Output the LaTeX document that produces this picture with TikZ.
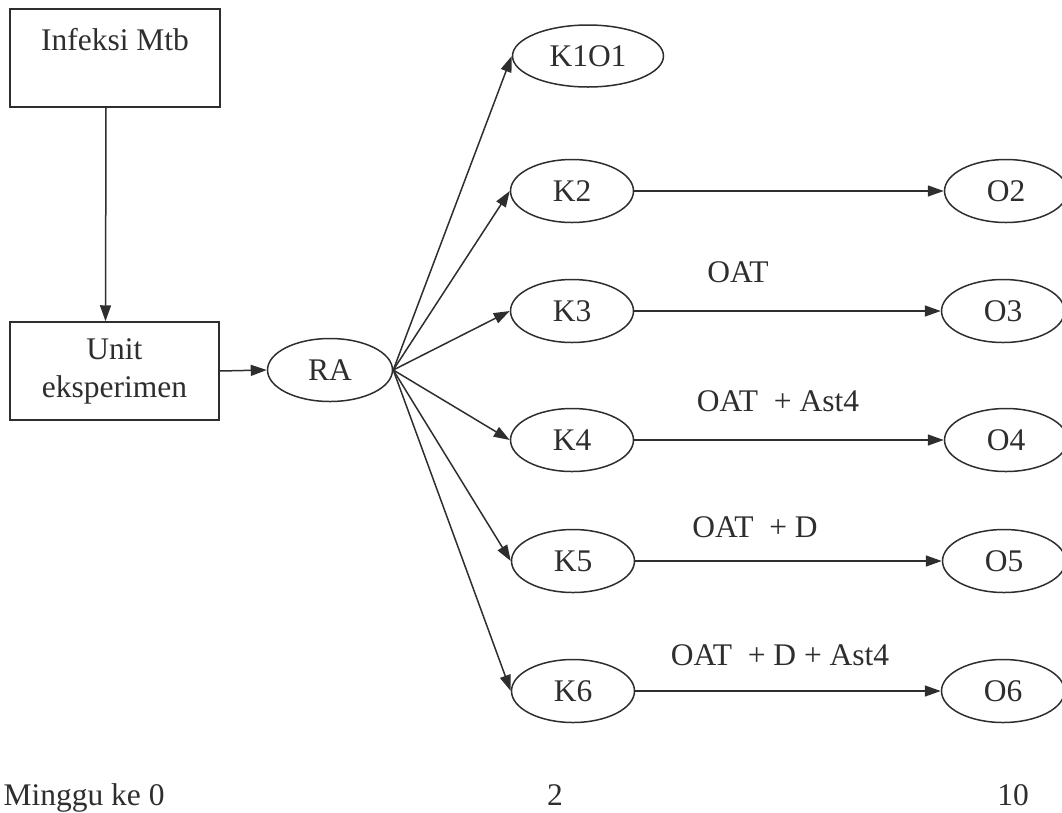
\documentclass[tikz,border=0pt]{standalone}
\usepackage{fontspec}
\setmainfont{Liberation Serif}
\usetikzlibrary{arrows.meta,shapes.geometric}
\definecolor{ink}{HTML}{2E2E2E}
\begin{document}
\begin{tikzpicture}[x=1pt,y=-1pt,
  every node/.style={text=ink,font=\fontsize{31.5}{38}\selectfont},
  rect/.style={draw=ink,line width=1.5pt,rectangle,inner sep=0pt,align=center},
  oval/.style={draw=ink,line width=1.5pt,ellipse,inner sep=0pt,minimum width=123pt,minimum height=63pt},
  conn/.style={draw=ink,line width=1.5pt,-{Triangle[length=16pt,width=11pt]}},
  lbl/.style={anchor=base}]
\useasboundingbox (0,0) rectangle (1062,812);

% boxes
\node[rect,minimum width=210pt,minimum height=98pt] (inf) at (115,58) {Infeksi Mtb\hspace{15pt}\\ \phantom{M}};
\node[rect,minimum width=209pt,minimum height=98pt] (unit) at (114.5,371) {Unit\\eksperimen};
\node[oval,minimum width=125pt] (ra) at (330,370) {RA};

% group ovals
\node[oval,minimum width=151pt,minimum height=62pt] (k1) at (588,56) {K1O1};
\node[oval] (k2) at (572,191) {K2};
\node[oval] (k3) at (572,311) {K3};
\node[oval] (k4) at (572,440) {K4};
\node[oval] (k5) at (573,561) {K5};
\node[oval] (k6) at (573,691) {K6};

% observation ovals
\node[oval] (o2) at (1006,191) {O2};
\node[oval] (o3) at (1003,311) {O3};
\node[oval] (o4) at (1006,440) {O4};
\node[oval] (o5) at (1004,561) {O5};
\node[oval] (o6) at (1003,691) {O6};

% flow
\draw[conn] ([xshift=-9pt]inf.south) -- ([xshift=-9pt]unit.north);
\draw[conn] (unit.east) -- (ra.west);
\foreach \k in {k1,k2,k3,k4,k5,k6}
  \draw[conn] (ra.east) -- (\k.west);
\foreach \k/\o in {k2/o2,k3/o3,k4/o4,k5/o5,k6/o6}
  \draw[conn] (\k.east) -- (\o.west);

% treatment labels
\node[lbl] (t3) at (738,282) {OAT};
\node[lbl] (t4) at (778,411) {OAT\ \ + Ast4};
\node[lbl] (t5) at (755,537) {OAT\ \ + D};
\node[lbl] (t6) at (780,665) {OAT\ \ + D + Ast4};

% time axis
\node[anchor=base west] (w0) at (0,805) {Minggu ke 0};
\node[anchor=base] (w2) at (555,805) {2};
\node[anchor=base] (w10) at (1013,805) {10};
\end{tikzpicture}
\end{document}
